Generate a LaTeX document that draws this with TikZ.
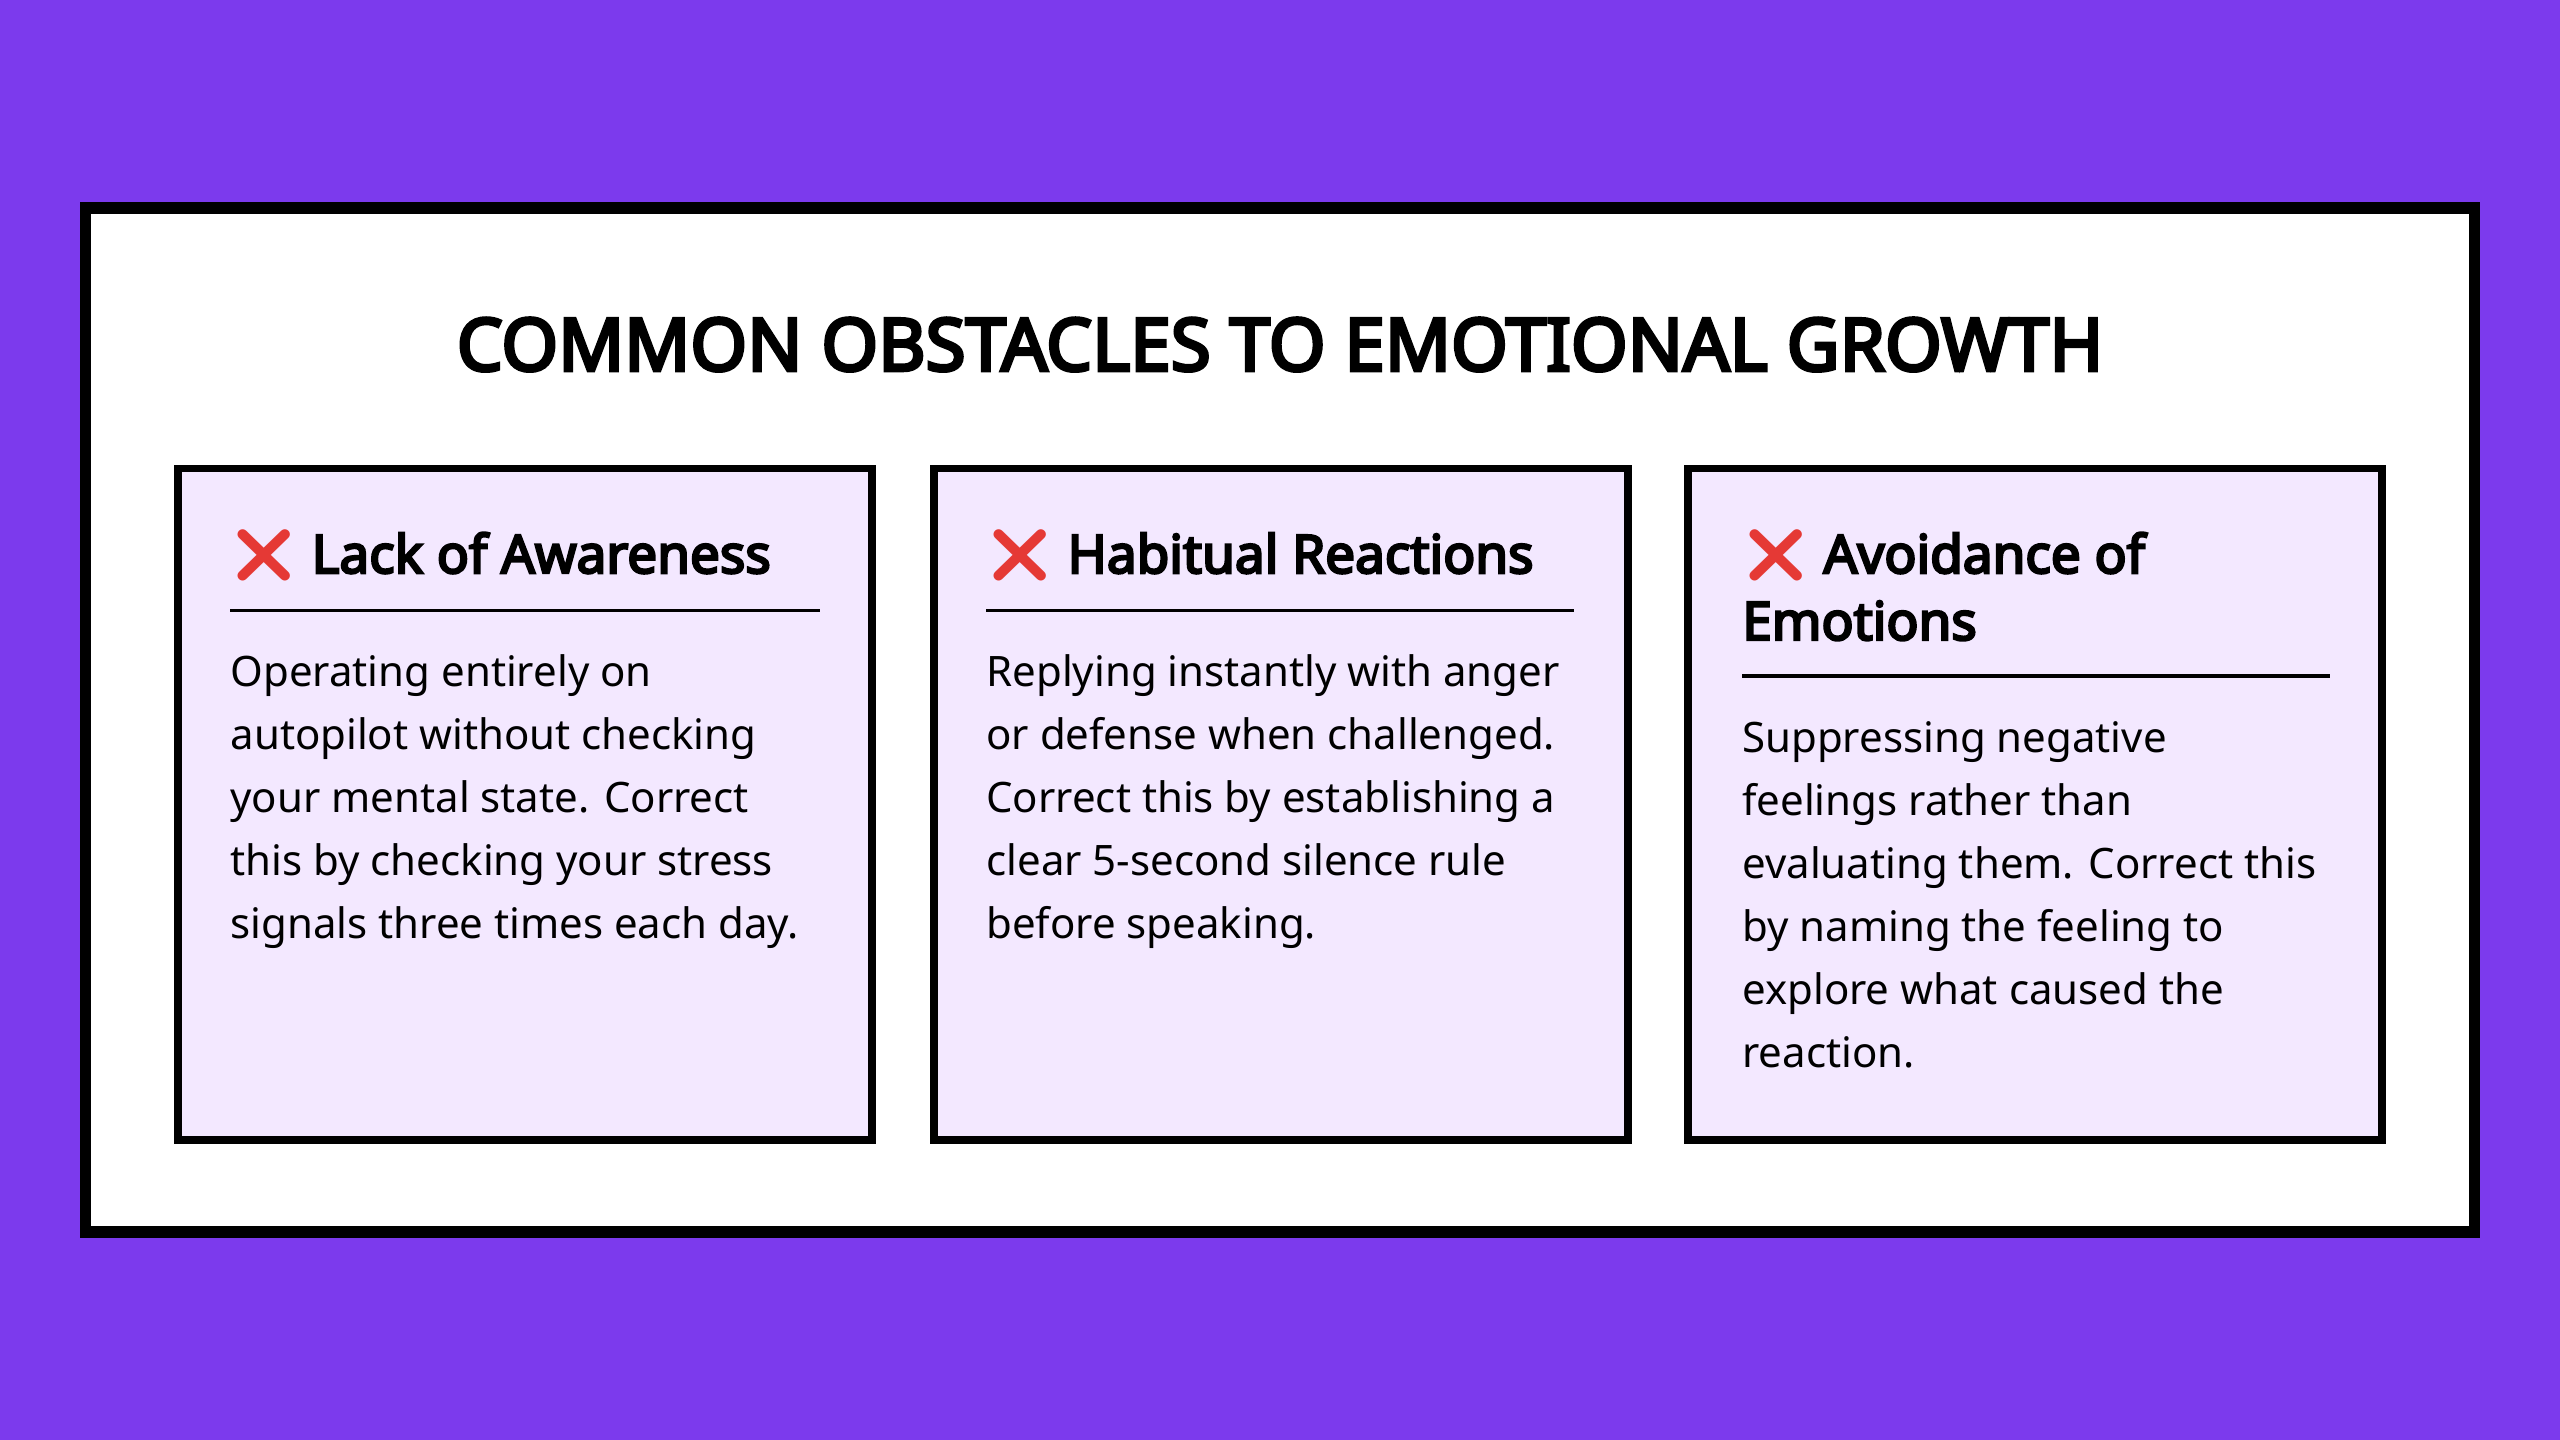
\documentclass[tikz,border=0pt]{standalone}
\usepackage{fontspec}
\setmainfont{Noto Sans}[BoldFont={Noto Sans},BoldFeatures={FakeBold=4.5}]
\newfontfamily\emj{Noto Emoji}
\definecolor{bgp}{HTML}{7C3AED}
\definecolor{cardf}{HTML}{F3E8FF}
\definecolor{xred}{HTML}{E53935}
\begin{document}
\begin{tikzpicture}[x=1pt,y=-1pt,
  card/.style={draw=black,line width=4.8pt,fill=cardf},
  head/.style={anchor=base west,inner sep=0,font=\fontsize{32.5}{41}\selectfont\bfseries},
  body/.style={anchor=north west,inner sep=0,font=\fontsize{25.7}{38.6}\selectfont,align=left},
  rule/.style={line width=2pt}]
\useasboundingbox (0,0) rectangle (1568,882);
\fill[bgp] (0,0) rectangle (1568,882);
\draw[draw=black,line width=7pt,fill=white] (52.5,127.5) rectangle (1515.5,754.5);
\node[inner sep=0,anchor=base,font=\fontsize{44.6}{50}\selectfont\bfseries] (title) at (784,227) {COMMON OBSTACLES TO EMOTIONAL GROWTH};
\foreach \x in {107,570,1032}{
  \draw[card] (\x+2,287) rectangle (\x+427,698);
}
\node[head] (h1) at (141,351) {{\emj\textcolor{xred}{❌}} Lack of Awareness};
\draw[rule] (141,374) -- (502,374);
\node[body] (b1) at (141,401) {Operating entirely on\\autopilot without checking\\your mental state. Correct\\this by checking your stress\\signals three times each day.};
\node[head] (h2) at (604,351) {{\emj\textcolor{xred}{❌}} Habitual Reactions};
\draw[rule] (604,374) -- (964,374);
\node[body] (b2) at (604,401) {Replying instantly with anger\\or defense when challenged.\\Correct this by establishing a\\clear 5-second silence rule\\before speaking.};
\node[head] (h3) at (1067,351) {{\emj\textcolor{xred}{❌}} Avoidance of};
\node[head] (h3b) at (1067,392) {Emotions};
\draw[rule] (1067,414) -- (1427,414);
\node[body] (b3) at (1067,442) {Suppressing negative\\feelings rather than\\evaluating them. Correct this\\by naming the feeling to\\explore what caused the\\reaction.};
\end{tikzpicture}
\end{document}
